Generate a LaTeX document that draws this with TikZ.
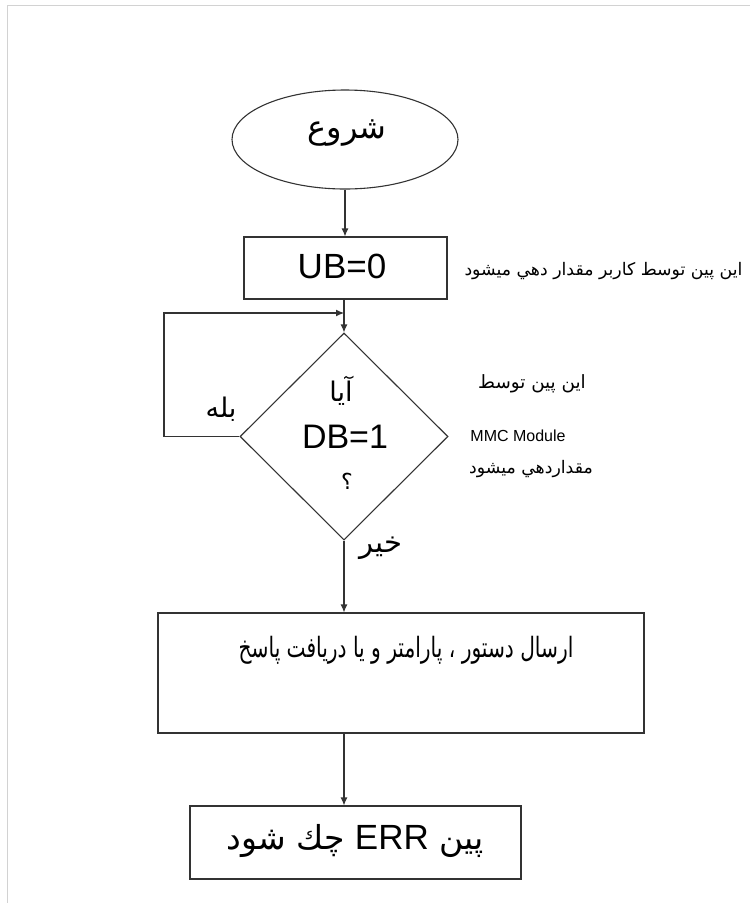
\documentclass[tikz,border=0pt]{standalone}
\usepackage{fontspec}
\usepackage{graphicx}
\setmainfont{Liberation Sans}
\newfontfamily\arabicfont[Script=Arabic]{DejaVu Sans}
\TeXXeTstate=1
\usetikzlibrary{arrows.meta,shapes.geometric}
\begin{document}
\begin{tikzpicture}[x=1pt,y=-1pt,
  shp/.style={draw=black!80, line width=1.1pt, inner sep=0pt},
  conn/.style={draw=black!80, line width=1.1pt},
  arr/.style={conn, -{Latex[length=8pt,width=7pt]}},
  txt/.style={inner sep=0pt},
  ar/.style={txt, font=\arabicfont}]
\useasboundingbox (0,0) rectangle (750,903);
\draw[gray!35, line width=1pt] (7,903) -- (7,5) -- (750,5);
% start
\node[shp, ellipse, minimum width=226pt, minimum height=99pt] (start) at (345,139.5) {};
\node[ar, font=\arabicfont\fontsize{32}{36}\selectfont] (starttxt) at (347,133) {\beginR شروع\endR};
% UB box
\node[shp, rectangle, minimum width=203pt, minimum height=62pt] (ub) at (345.5,268) {};
\node[txt, font=\fontsize{35}{38}\selectfont] (ubtxt) at (342,266) {UB=0};
\node[ar, font=\arabicfont\fontsize{17.3}{20}\selectfont] (ann1) at (603.5,271) {\beginR اين پين توسط كاربر مقدار دهي ميشود\endR};
% decision
\node[shp, diamond, aspect=1, minimum width=208pt, minimum height=207pt] (dec) at (344,436.5) {};
\node[ar, font=\arabicfont\fontsize{27}{30}\selectfont] (q1) at (341,391) {\beginR آيا\endR};
\node[txt, font=\fontsize{34}{37}\selectfont] (q2) at (345,437) {DB=1};
\node[ar, font=\arabicfont\fontsize{22}{26}\selectfont] (q3) at (347,481) {\beginR ؟\endR};
\node[ar, font=\arabicfont\fontsize{27}{30}\selectfont] (yes) at (221,409) {\beginR بله\endR};
\node[ar, font=\arabicfont\fontsize{29}{32}\selectfont] (no) at (381,548) {\beginR خير\endR};
\node[ar, font=\arabicfont\fontsize{18.3}{21}\selectfont] (ann2a) at (532,384) {\beginR اين پين توسط\endR};
\node[txt, font=\fontsize{16}{18}\selectfont] (ann2b) at (518,436) {MMC Module};
\node[ar, font=\arabicfont\fontsize{17.3}{20}\selectfont] (ann2c) at (531,469) {\beginR مقداردهي ميشود\endR};
% send box
\node[shp, rectangle, minimum width=486pt, minimum height=120pt] (send) at (401,673) {};
\node[ar, font=\arabicfont\fontsize{28}{32}\selectfont] (sendtxt) at (406,650) {\scalebox{0.72}[1]{\beginR ارسال دستور ، پارامتر و يا دريافت پاسخ\endR}};
% ERR box
\node[shp, rectangle, minimum width=331pt, minimum height=73pt] (err) at (355.5,842.5) {};
\node[ar, font=\arabicfont\fontsize{33}{37}\selectfont] (errtxt) at (355,841) {\beginR پين \beginL{\rmfamily\fontsize{35}{38}\selectfont ERR}\endL{} چك شود\endR};
% connectors
\coordinate (lb) at (164,436.5);
\coordinate (lt) at (164,313);
\draw[arr] (start.south) -- (ub.north -| start.south);
\draw[arr] (ub.south -| dec.north) -- (dec.north);
\draw[arr] (dec.west) -- (lb) -- (lt) -- (lt -| dec.north);
\draw[arr] (dec.south) -- (dec.south |- send.north);
\draw[arr] (dec.south |- send.south) -- (dec.south |- err.north);
\end{tikzpicture}
\end{document}
